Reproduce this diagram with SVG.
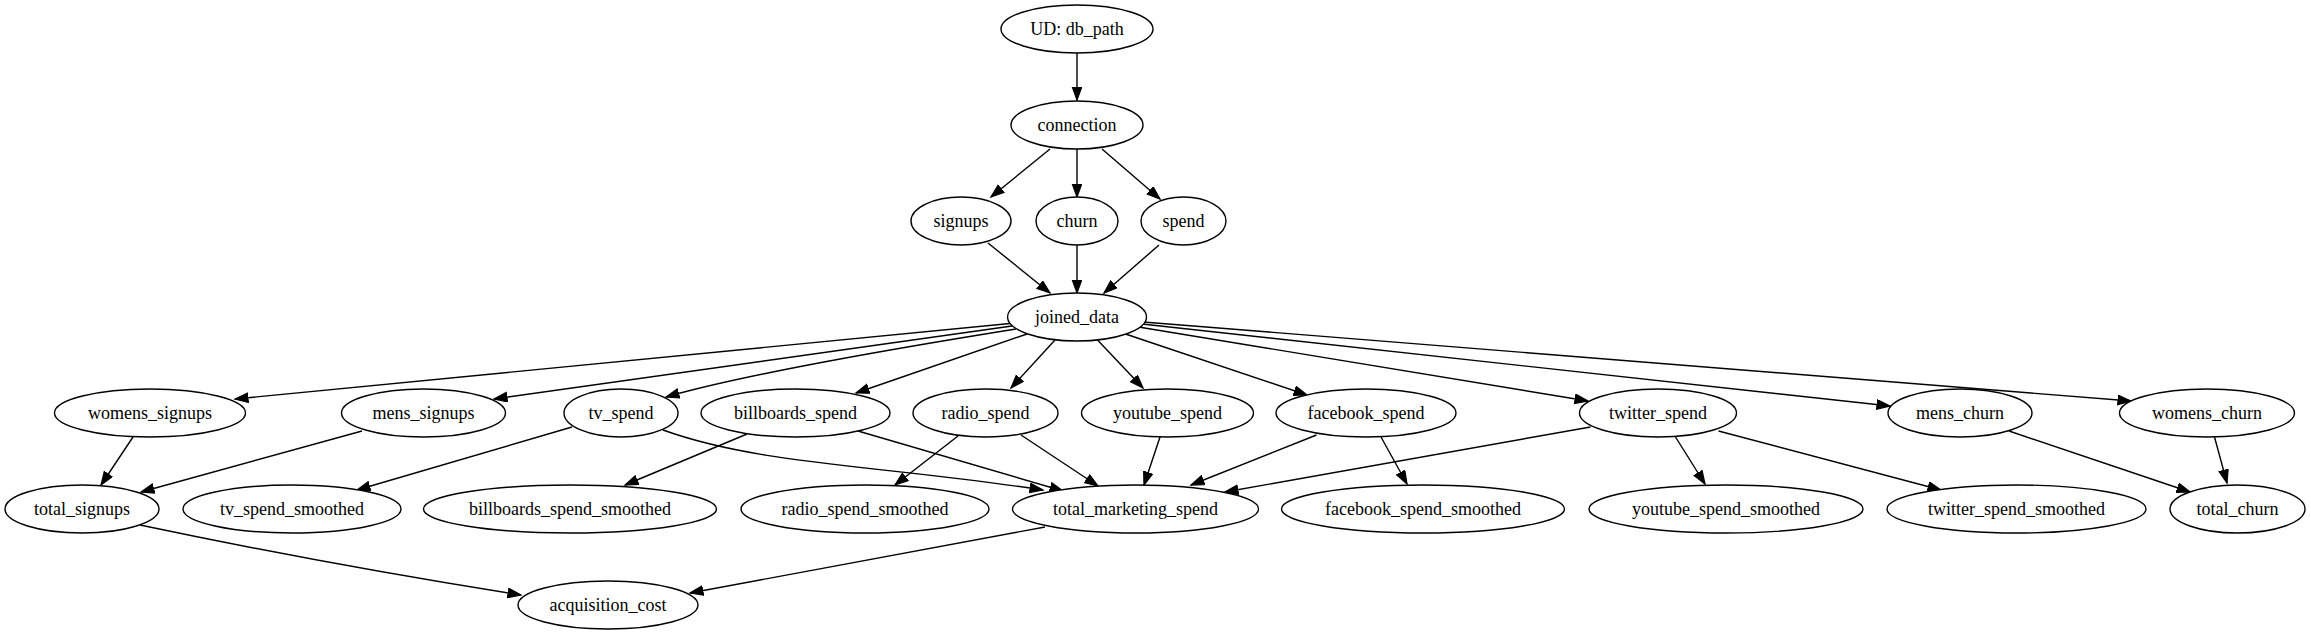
<svg xmlns="http://www.w3.org/2000/svg" width="2311" height="635" viewBox="0 0 2311 635">
<style>
.n ellipse{fill:#fff;stroke:#000;stroke-width:1.4}
.n text{font-family:"Liberation Serif","Times New Roman",serif;font-size:18px;text-anchor:middle;fill:#000}
.e path{fill:none;stroke:#000;stroke-width:1.4;marker-end:url(#ah)}
</style>
<defs>
<marker id="ah" markerUnits="userSpaceOnUse" markerWidth="16" markerHeight="12" refX="13.5" refY="5.2" orient="auto">
<path d="M0.5,0.5 L13.5,5.2 L0.5,9.9 z" fill="#000" stroke="#000" stroke-width="1.2"/>
</marker>
</defs>
<rect width="2311" height="635" fill="#fff"/>
<g id="edges" class="e">
<path d="M1077,53 L1077,100"/>
<path d="M1050,149 L991,197"/>
<path d="M1077,149 L1077,197"/>
<path d="M1102,149 L1160,199"/>
<path d="M988,243 L1050,293"/>
<path d="M1077,245 L1077,293"/>
<path d="M1159,245 L1104,293"/>
<path d="M1010,323.5 L235,399"/>
<path d="M1012,326 L494,399"/>
<path d="M1016,329 Q760,370 666,397"/>
<path d="M1027,334 L856,393"/>
<path d="M1055,340 L1011,388"/>
<path d="M1097.5,340 L1143,388"/>
<path d="M1125.5,334 L1307,395"/>
<path d="M1138.5,327 L1588,401"/>
<path d="M1142,324 L1890,406"/>
<path d="M1143,322 L2131,401"/>
<path d="M133,437 L101,485"/>
<path d="M362,431 L141,492"/>
<path d="M572,427 L357,490"/>
<path d="M663,430 C760,465 880,465 1043,490"/>
<path d="M747,434 L625,485"/>
<path d="M858,431 L1063,491"/>
<path d="M958,436 L895,485"/>
<path d="M1021,435 L1098,486"/>
<path d="M1160,437 L1144,485"/>
<path d="M1316.5,435 L1191,485"/>
<path d="M1381,437 L1407,484"/>
<path d="M1590.5,427 L1225,492"/>
<path d="M1675.5,437 L1705,484"/>
<path d="M1718.5,431 L1941,490"/>
<path d="M2009,431 L2190,492"/>
<path d="M2214.5,437 L2227,483"/>
<path d="M140,525 Q330,565 521,595"/>
<path d="M1045,527 L690,593"/>
</g>
<g id="n_ud" class="n"><ellipse cx="1077" cy="29" rx="76" ry="24"/><text x="1077" y="35">UD: db_path</text></g>
<g id="n_connection" class="n"><ellipse cx="1077" cy="125" rx="66" ry="24"/><text x="1077" y="131">connection</text></g>
<g id="n_signups" class="n"><ellipse cx="961" cy="221" rx="50" ry="24"/><text x="961" y="227">signups</text></g>
<g id="n_churn" class="n"><ellipse cx="1077" cy="221" rx="41" ry="24"/><text x="1077" y="227">churn</text></g>
<g id="n_spend" class="n"><ellipse cx="1183.5" cy="221" rx="42.5" ry="24"/><text x="1183.5" y="227">spend</text></g>
<g id="n_joined_data" class="n"><ellipse cx="1077" cy="317" rx="69.5" ry="24"/><text x="1077" y="323">joined_data</text></g>
<g id="n_womens_signups" class="n"><ellipse cx="150" cy="413" rx="95.5" ry="24"/><text x="150" y="419">womens_signups</text></g>
<g id="n_mens_signups" class="n"><ellipse cx="423.5" cy="413" rx="82" ry="24"/><text x="423.5" y="419">mens_signups</text></g>
<g id="n_tv_spend" class="n"><ellipse cx="621" cy="413" rx="57" ry="24"/><text x="621" y="419">tv_spend</text></g>
<g id="n_billboards_spend" class="n"><ellipse cx="795.5" cy="413" rx="94.5" ry="24"/><text x="795.5" y="419">billboards_spend</text></g>
<g id="n_radio_spend" class="n"><ellipse cx="985.5" cy="413" rx="72.5" ry="24"/><text x="985.5" y="419">radio_spend</text></g>
<g id="n_youtube_spend" class="n"><ellipse cx="1167.5" cy="413" rx="86" ry="24"/><text x="1167.5" y="419">youtube_spend</text></g>
<g id="n_facebook_spend" class="n"><ellipse cx="1366" cy="413" rx="90" ry="24"/><text x="1366" y="419">facebook_spend</text></g>
<g id="n_twitter_spend" class="n"><ellipse cx="1658" cy="413" rx="78.5" ry="24"/><text x="1658" y="419">twitter_spend</text></g>
<g id="n_mens_churn" class="n"><ellipse cx="1960" cy="413" rx="72" ry="24"/><text x="1960" y="419">mens_churn</text></g>
<g id="n_womens_churn" class="n"><ellipse cx="2207" cy="413" rx="87.5" ry="24"/><text x="2207" y="419">womens_churn</text></g>
<g id="n_total_signups" class="n"><ellipse cx="82" cy="509" rx="77" ry="24"/><text x="82" y="515">total_signups</text></g>
<g id="n_tv_spend_smoothed" class="n"><ellipse cx="292" cy="509" rx="109" ry="24"/><text x="292" y="515">tv_spend_smoothed</text></g>
<g id="n_billboards_spend_smoothed" class="n"><ellipse cx="570" cy="509" rx="146.5" ry="24"/><text x="570" y="515">billboards_spend_smoothed</text></g>
<g id="n_radio_spend_smoothed" class="n"><ellipse cx="865" cy="509" rx="124" ry="24"/><text x="865" y="515">radio_spend_smoothed</text></g>
<g id="n_total_marketing_spend" class="n"><ellipse cx="1135.5" cy="509" rx="123" ry="24"/><text x="1135.5" y="515">total_marketing_spend</text></g>
<g id="n_facebook_spend_smoothed" class="n"><ellipse cx="1423" cy="509" rx="141.5" ry="24"/><text x="1423" y="515">facebook_spend_smoothed</text></g>
<g id="n_youtube_spend_smoothed" class="n"><ellipse cx="1726" cy="509" rx="137" ry="24"/><text x="1726" y="515">youtube_spend_smoothed</text></g>
<g id="n_twitter_spend_smoothed" class="n"><ellipse cx="2016.5" cy="509" rx="129.5" ry="24"/><text x="2016.5" y="515">twitter_spend_smoothed</text></g>
<g id="n_total_churn" class="n"><ellipse cx="2237.5" cy="509" rx="67.5" ry="24"/><text x="2237.5" y="515">total_churn</text></g>
<g id="n_acquisition_cost" class="n"><ellipse cx="608" cy="605" rx="90" ry="24"/><text x="608" y="611">acquisition_cost</text></g>
</svg>
